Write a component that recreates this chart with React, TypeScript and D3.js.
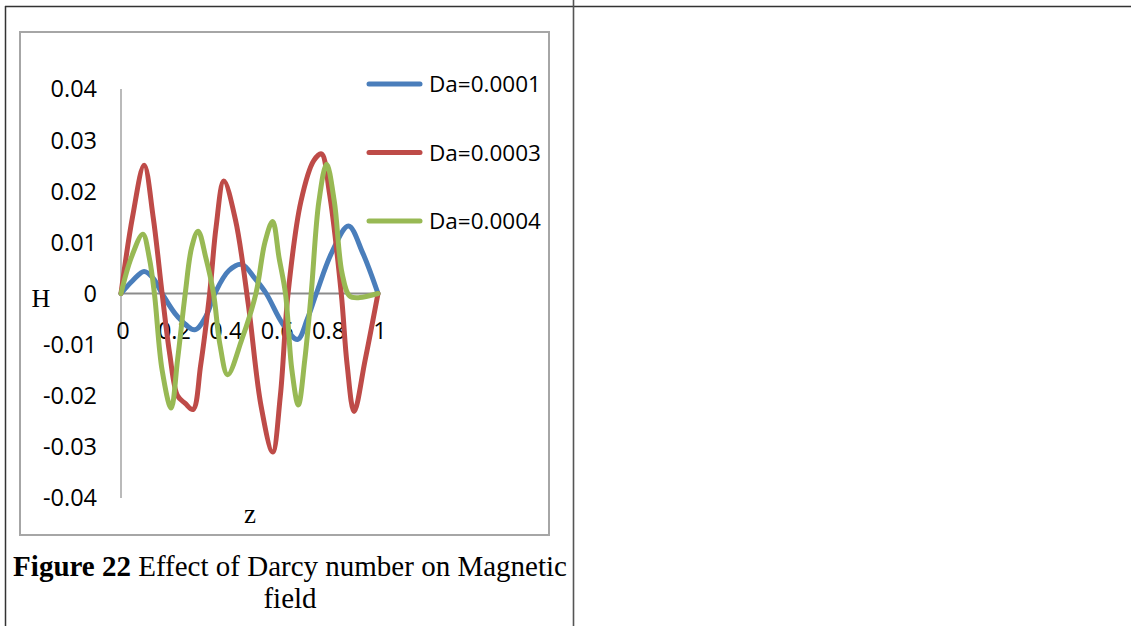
import * as d3 from 'd3';

// H(z), one list per Darcy number
const zBlue = [0, 0.045, 0.09, 0.125, 0.16, 0.22, 0.287, 0.33, 0.365, 0.42, 0.47, 0.52, 0.565, 0.63, 0.687, 0.725, 0.76, 0.82, 0.885, 0.94, 1];
const hBlue = [0, 0.0025, 0.0043, 0.003, 0, -0.0045, -0.0071, -0.0045, 0, 0.0045, 0.0057, 0.003, 0, -0.006, -0.009, -0.005, 0, 0.008, 0.0132, 0.008, 0];

const zRed = [0, 0.045, 0.09, 0.125, 0.16, 0.19, 0.22, 0.25, 0.28, 0.31, 0.345, 0.37, 0.4, 0.445, 0.495, 0.545, 0.59, 0.62, 0.65, 0.7, 0.75, 0.78, 0.81, 0.857, 0.88, 0.907, 0.95, 1];
const hRed = [0, 0.015, 0.0251, 0.015, 0, -0.012, -0.02, -0.0215, -0.0227, -0.014, 0, 0.013, 0.022, 0.0145, -0.002, -0.022, -0.031, -0.02, 0, 0.018, 0.026, 0.0273, 0.02, 0, -0.014, -0.0231, -0.013, 0];

const zGreen = [0, 0.04, 0.085, 0.11, 0.13, 0.16, 0.195, 0.22, 0.25, 0.275, 0.3, 0.33, 0.36, 0.385, 0.415, 0.47, 0.525, 0.56, 0.59, 0.615, 0.64, 0.665, 0.69, 0.715, 0.74, 0.77, 0.8, 0.83, 0.86, 0.89, 0.93, 1];
const hGreen = [0, 0.007, 0.0116, 0.007, 0, -0.015, -0.0224, -0.013, 0, 0.009, 0.0122, 0.007, 0, -0.01, -0.0159, -0.009, 0, 0.01, 0.0141, 0.007, 0, -0.015, -0.0218, -0.013, 0, 0.018, 0.0253, 0.018, 0.004, -0.0005, -0.0008, 0];

const seriesNames = ['Da=0.0001', 'Da=0.0003', 'Da=0.0004'];
const seriesColors = ['#4a7ebb', '#be4b48', '#98b954'];

const yTicks = [0.04, 0.03, 0.02, 0.01, 0, -0.01, -0.02, -0.03, -0.04];
const xTicks = [0, 0.2, 0.4, 0.6, 0.8, 1];

const W = 1131;
const H = 626;

export default function App() {
  const x = d3.scaleLinear().domain([0, 1]).range([121, 378]);
  const y = d3.scaleLinear().domain([-0.04, 0.04]).range([498, 89]);

  const series = [
    { z: zBlue, h: hBlue },
    { z: zRed, h: hRed },
    { z: zGreen, h: hGreen },
  ].map((s, i) => ({
    name: seriesNames[i],
    color: seriesColors[i],
    pts: s.z.map((z, j) => [z, s.h[j]] as [number, number]),
  }));

  const line = d3
    .line<[number, number]>()
    .x((d) => x(d[0]))
    .y((d) => y(d[1]))
    .curve(d3.curveCatmullRom.alpha(0.5));

  const sans = "'Open Sans', sans-serif";
  const serif = "'Liberation Serif', 'Times New Roman', serif";

  return (
    <div style={{ position: 'absolute', left: 0, top: 0 }}>
      <svg width={W} height={H} style={{ display: 'block', background: '#fff' }}>
        {/* table borders */}
        <line x1={5} x2={W} y1={6.5} y2={6.5} stroke="#333" strokeWidth={1.6} />
        <line x1={5.5} x2={5.5} y1={6} y2={H} stroke="#333" strokeWidth={1.5} />
        <line x1={573.5} x2={573.5} y1={0} y2={H} stroke="#555" strokeWidth={1.6} />

        {/* chart frame */}
        <rect x={20} y={32} width={529} height={503} fill="#fff" stroke="#a6a6a6" strokeWidth={2} />

        {/* axes */}
        <line x1={x(0)} x2={x(0)} y1={y(0.04)} y2={y(-0.04)} stroke="#8c8c8c" strokeWidth={1.2} />
        <line x1={x(0)} x2={x(1)} y1={y(0)} y2={y(0)} stroke="#8c8c8c" strokeWidth={2} />

        {yTicks.map((t) => (
          <text
            key={t}
            x={97}
            y={y(t)}
            dy="0.36em"
            textAnchor="end"
            fontFamily={sans}
            fontSize={23.5}
            fill="#000"
          >
            {t === 0 ? '0' : t.toFixed(2)}
          </text>
        ))}
        {xTicks.map((t) => (
          <text
            key={t}
            x={x(t) + 2}
            y={339}
            textAnchor="middle"
            fontFamily={sans}
            fontSize={23.5}
            fill="#000"
          >
            {String(t)}
          </text>
        ))}

        {series.map((s) => (
          <path
            key={s.name}
            d={line(s.pts) ?? ''}
            fill="none"
            stroke={s.color}
            strokeWidth={5}
            strokeLinejoin="round"
            strokeLinecap="round"
          />
        ))}

        {/* axis titles */}
        <text x={41} y={307} textAnchor="middle" fontFamily={serif} fontSize={26}>
          H
        </text>
        <text x={250} y={523} textAnchor="middle" fontFamily={serif} fontSize={27}>
          z
        </text>

        {/* legend */}
        {series.map((s, i) => (
          <g key={s.name} transform={`translate(0, ${84 + i * 68.5})`}>
            <line x1={369} x2={420} y1={0} y2={0} stroke={s.color} strokeWidth={5} strokeLinecap="round" />
            <text x={429} y={0} dy="0.36em" fontFamily={sans} fontSize={22.5} fill="#000">
              {s.name}
            </text>
          </g>
        ))}

        {/* caption */}
        <text x={290} y={576} textAnchor="middle" fontFamily={serif} fontSize={29} fill="#000">
          <tspan fontWeight="bold">Figure 22</tspan>
          <tspan> Effect of Darcy number on Magnetic</tspan>
        </text>
        <text x={290} y={608} textAnchor="middle" fontFamily={serif} fontSize={29} fill="#000">
          field
        </text>
      </svg>
    </div>
  );
}
